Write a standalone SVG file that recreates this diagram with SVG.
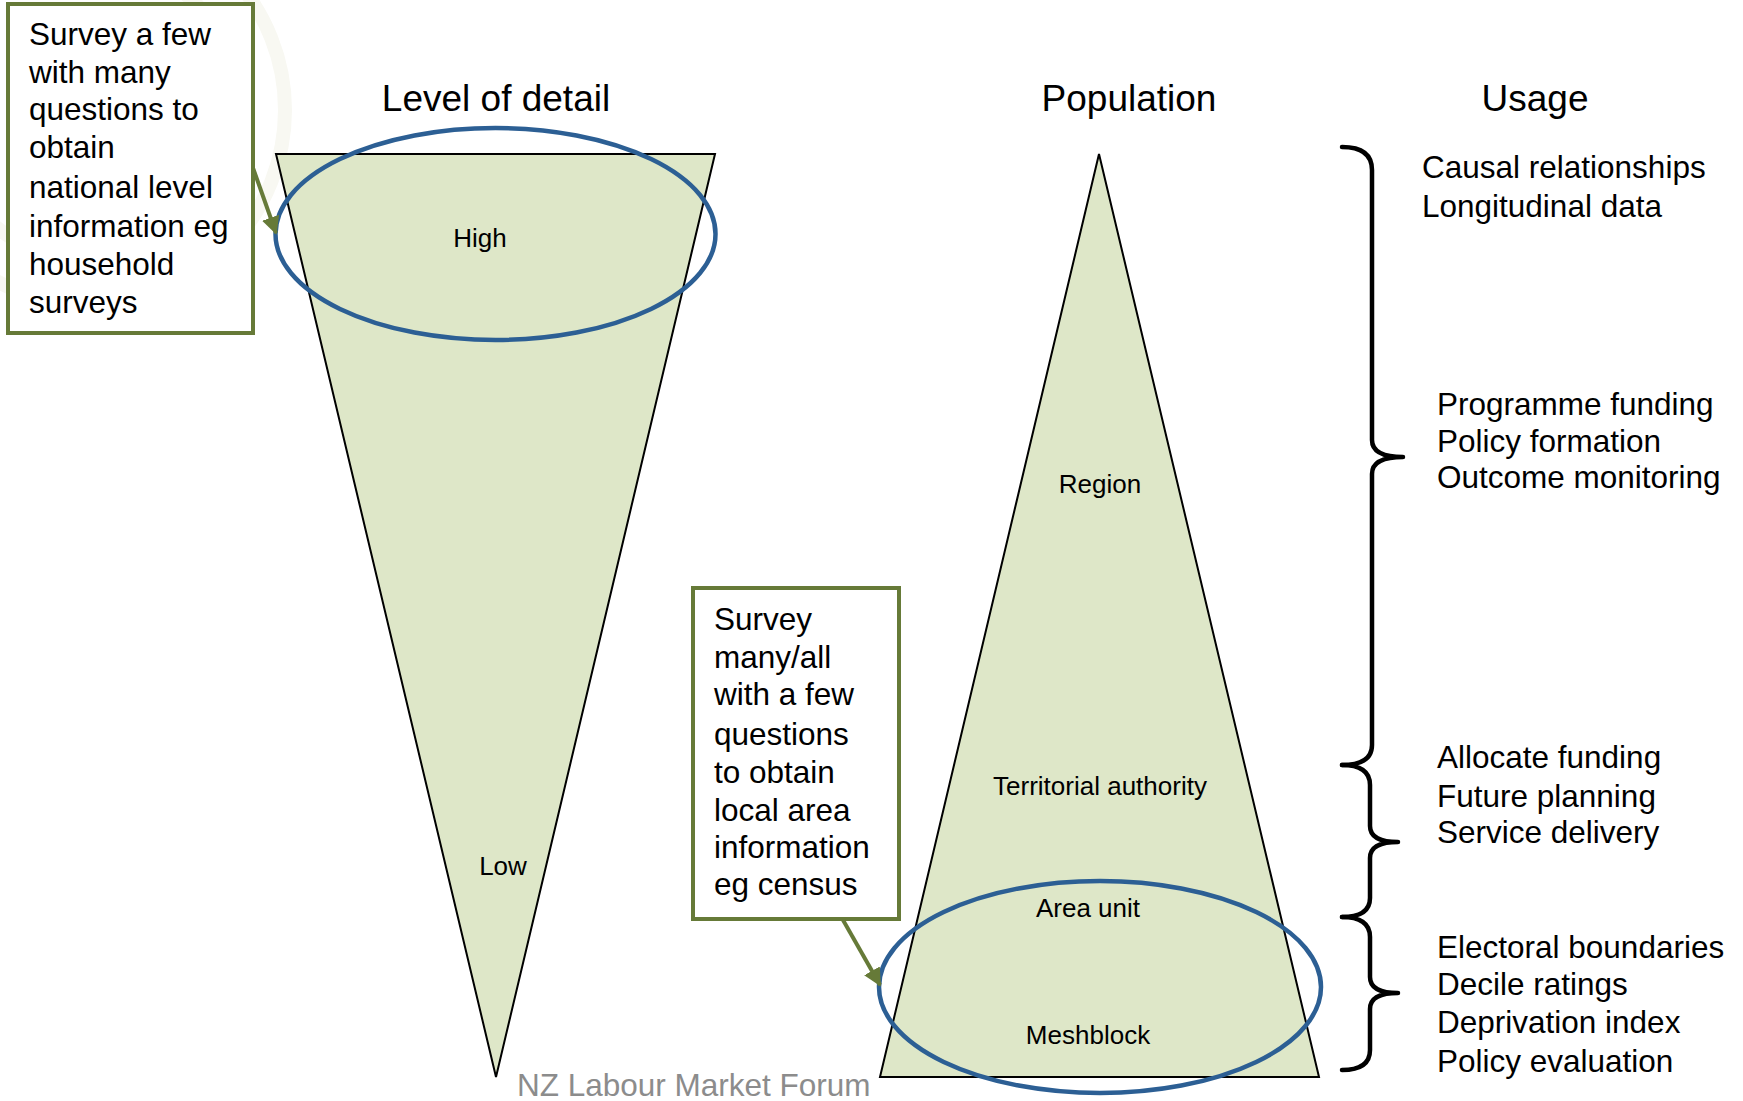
<svg xmlns="http://www.w3.org/2000/svg" width="1743" height="1101" viewBox="0 0 1743 1101">
<style>
  text { font-family: "Liberation Sans", Arial, sans-serif; fill: #000; }
  .hdr { font-size: 37px; text-anchor: middle; }
  .lbl { font-size: 26px; text-anchor: middle; }
  .body { font-size: 31.5px; }
  .tri { fill: #DEE7C8; stroke: #000; stroke-width: 2; stroke-linejoin: miter; }
  .ring { fill: none; stroke: #2C5F94; stroke-width: 4.5; }
  .box { fill: #fff; stroke: #667A38; stroke-width: 4; }
  .conn { fill: none; stroke: #667A38; stroke-width: 4; }
  .brace { fill: none; stroke: #000; stroke-width: 4.5; stroke-linecap: round; stroke-linejoin: round; }
  .foot { font-size: 31.5px; fill: #8C8C8C; }
</style>
<defs>
  <marker id="arr" viewBox="0 0 10 10" refX="9" refY="5" markerWidth="4.5" markerHeight="4.5" orient="auto" markerUnits="strokeWidth">
    <path d="M0,0 L10,5 L0,10 z" fill="#667A38"/>
  </marker>
</defs>
<rect width="1743" height="1101" fill="#fff"/>
<g id="background" fill="none" stroke="#F8F8F2" stroke-width="14">
  <circle cx="90" cy="110" r="195"/>
  <circle cx="90" cy="110" r="150"/>
</g>

<g id="headers">
  <text class="hdr" x="496" y="111">Level of detail</text>
  <text class="hdr" x="1129" y="111">Population</text>
  <text class="hdr" x="1535" y="111">Usage</text>
</g>

<g id="detail-funnel">
  <polygon class="tri" points="276,154 715,154 496,1077"/>
  <text class="lbl" x="480" y="247">High</text>
  <text class="lbl" x="503" y="875">Low</text>
</g>
<g id="population-pyramid">
  <polygon class="tri" points="1099,154 1319,1077 880,1077"/>
  <text class="lbl" x="1100" y="493">Region</text>
  <text class="lbl" x="1100" y="795">Territorial authority</text>
  <text class="lbl" x="1088" y="917">Area unit</text>
  <text class="lbl" x="1088" y="1044">Meshblock</text>
</g>
<g id="ellipse-high">
  <ellipse class="ring" cx="495.5" cy="234" rx="220" ry="106"/>
</g>
<g id="ellipse-low">
  <ellipse class="ring" cx="1100" cy="987" rx="221" ry="106"/>
</g>

<g id="callout-household">
  <rect class="box" x="8" y="4" width="245" height="329"/>
  <text class="body">
    <tspan x="29" y="45">Survey a few</tspan>
    <tspan x="29" y="83">with many</tspan>
    <tspan x="29" y="120">questions to</tspan>
    <tspan x="29" y="158">obtain</tspan>
    <tspan x="29" y="198">national level</tspan>
    <tspan x="29" y="237">information eg</tspan>
    <tspan x="29" y="275">household</tspan>
    <tspan x="29" y="313">surveys</tspan>
  </text>
</g>
<g id="callout-census">
  <rect class="box" x="693" y="588" width="206" height="331"/>
  <text class="body">
    <tspan x="714" y="630">Survey</tspan>
    <tspan x="714" y="668">many/all</tspan>
    <tspan x="714" y="705">with a few</tspan>
    <tspan x="714" y="745">questions</tspan>
    <tspan x="714" y="783">to obtain</tspan>
    <tspan x="714" y="821">local area</tspan>
    <tspan x="714" y="858">information</tspan>
    <tspan x="714" y="895">eg census</tspan>
  </text>
</g>

<g id="connectors">
  <line class="conn" x1="253" y1="168" x2="276" y2="233" marker-end="url(#arr)"/>
  <line class="conn" x1="843" y1="920" x2="880" y2="985" marker-end="url(#arr)"/>
  <path class="brace" d="M1342,147 Q1372,147 1372,170 L1372,440 Q1372,457 1403,457 Q1372,457 1372,474 L1372,745 Q1372,765 1342,765"/>
  <path class="brace" d="M1342,765 Q1370,765 1370,785 L1370,826 Q1370,842 1398,842 Q1370,842 1370,858 L1370,898 Q1370,917 1342,917"/>
  <path class="brace" d="M1342,917 Q1370,917 1370,937 L1370,977 Q1370,993 1398,993 Q1370,993 1370,1009 L1370,1050 Q1370,1070 1342,1070"/>
</g>

<g id="usage">
  <text class="body">
    <tspan x="1422" y="178">Causal relationships</tspan>
    <tspan x="1422" y="217">Longitudinal data</tspan>
  </text>
  <text class="body">
    <tspan x="1437" y="415">Programme funding</tspan>
    <tspan x="1437" y="452">Policy formation</tspan>
    <tspan x="1437" y="488">Outcome monitoring</tspan>
  </text>
  <text class="body">
    <tspan x="1437" y="768">Allocate funding</tspan>
    <tspan x="1437" y="807">Future planning</tspan>
    <tspan x="1437" y="843">Service delivery</tspan>
  </text>
  <text class="body">
    <tspan x="1437" y="958">Electoral boundaries</tspan>
    <tspan x="1437" y="995">Decile ratings</tspan>
    <tspan x="1437" y="1033">Deprivation index</tspan>
    <tspan x="1437" y="1072">Policy evaluation</tspan>
  </text>
</g>

<g id="footer">
  <text class="foot" x="517" y="1096">NZ Labour Market Forum</text>
</g>
</svg>
